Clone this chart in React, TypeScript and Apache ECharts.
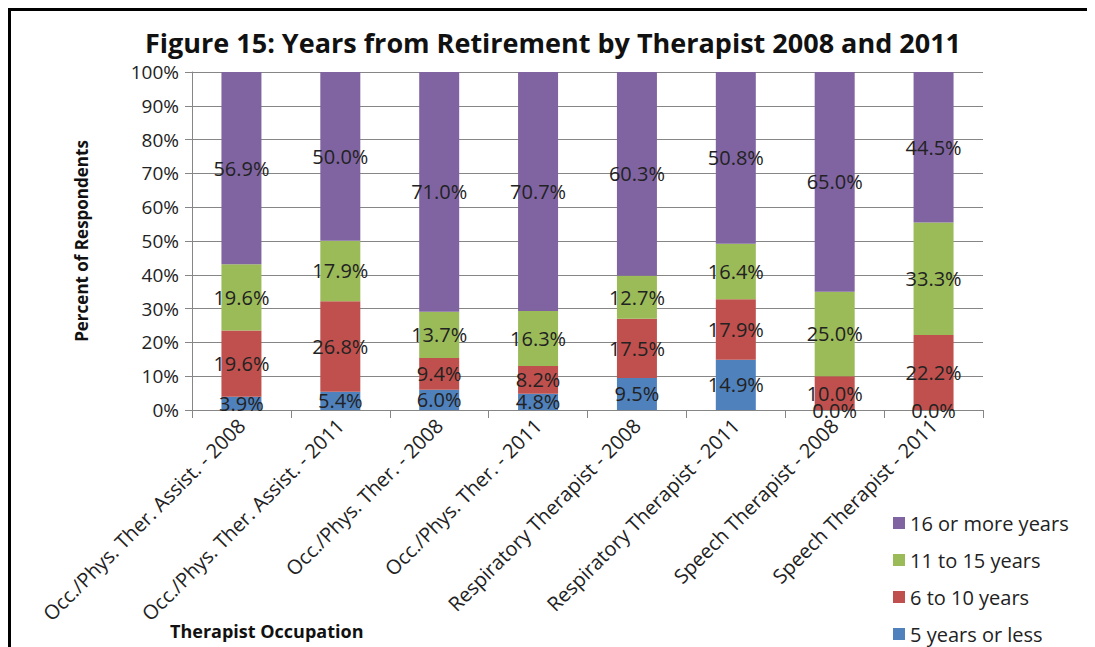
import React, { useEffect, useRef } from "react";
import * as echarts from "echarts";

const categories = [
  "Occ./Phys. Ther. Assist. - 2008",
  "Occ./Phys. Ther. Assist. - 2011",
  "Occ./Phys. Ther. - 2008",
  "Occ./Phys. Ther. - 2011",
  "Respiratory Therapist - 2008",
  "Respiratory Therapist - 2011",
  "Speech Therapist - 2008",
  "Speech Therapist - 2011",
];
const fiveOrLess = [3.9, 5.4, 6.0, 4.8, 9.5, 14.9, 0.0, 0.0];
const sixToTen = [19.6, 26.8, 9.4, 8.2, 17.5, 17.9, 10.0, 22.2];
const elevenToFifteen = [19.6, 17.9, 13.7, 16.3, 12.7, 16.4, 25.0, 33.3];
const sixteenPlus = [56.9, 50.0, 71.0, 70.7, 60.3, 50.8, 65.0, 44.5];
const seriesNames = ["5 years or less", "6 to 10 years", "11 to 15 years", "16 or more years"];
const seriesColors = ["#4F81BD", "#C0504D", "#9BBB59", "#8064A2"];

const FONT = "'Open Sans', sans-serif";

export default function App() {
  const ref = useRef<HTMLDivElement>(null);
  useEffect(() => {
    if (!ref.current) return;
    const chart = echarts.init(ref.current, undefined, { renderer: "svg" });
    const values = [fiveOrLess, sixToTen, elevenToFifteen, sixteenPlus];
    chart.setOption({
      animation: false,
      textStyle: { fontFamily: FONT },
      title: {
        text: "Figure 15: Years from Retirement by Therapist 2008 and 2011",
        left: "center",
        top: 18,
        padding: 0,
        textStyle: { fontFamily: FONT, fontWeight: "bold", fontSize: 27, color: "#111" },
      },
      grid: { left: 181, right: 112, top: 61, bottom: 237 },
      legend: {
        data: [...seriesNames].reverse(),
        orient: "vertical",
        left: 882,
        top: 502,
        padding: 0,
        height: 140,
        itemWidth: 12,
        itemHeight: 12,
        itemGap: 17,
        icon: "rect",
        textStyle: { fontFamily: FONT, fontSize: 20, color: "#222" },
      },
      xAxis: {
        type: "category",
        data: categories,
        axisLine: { lineStyle: { color: "#868686" } },
        axisTick: { show: true, length: 8, lineStyle: { color: "#868686" } },
        axisLabel: { rotate: 45, fontFamily: FONT, fontSize: 20, color: "#222", margin: 12, interval: 0 },
      },
      yAxis: {
        type: "value",
        min: 0,
        max: 100,
        interval: 10,
        name: "Percent of Respondents",
        nameLocation: "middle",
        nameGap: 102,
        nameTextStyle: { fontFamily: FONT, fontWeight: "bold", fontSize: 17, color: "#111" },
        axisLine: { show: true, lineStyle: { color: "#868686" } },
        axisTick: { show: true, length: 7, lineStyle: { color: "#868686" } },
        splitLine: { lineStyle: { color: "#868686" } },
        axisLabel: { formatter: "{value}%", fontFamily: FONT, fontSize: 19, color: "#222", margin: 13 },
      },
      graphic: [
        {
          type: "text",
          left: 159,
          top: 611,
          style: { text: "Therapist Occupation", font: "bold 18px 'Open Sans', sans-serif", fill: "#111" },
        },
      ],
      series: seriesNames.map((name, i) => ({
        name,
        type: "bar",
        stack: "total",
        barWidth: 40,
        data: values[i],
        itemStyle: { color: seriesColors[i] },
        label: {
          show: true,
          position: "inside",
          formatter: (p: any) => p.value.toFixed(1) + "%",
          fontFamily: FONT,
          fontSize: 20,
          color: "#222",
        },
      })),
    });
    return () => chart.dispose();
  }, []);
  return (
    <div
      style={{
        width: 1087,
        height: 639,
        borderTop: "3px solid #000",
        borderLeft: "3px solid #000",
        boxSizing: "border-box",
        background: "#fff",
      }}
    >
      <div ref={ref} style={{ width: 1084, height: 636 }} />
    </div>
  );
}
